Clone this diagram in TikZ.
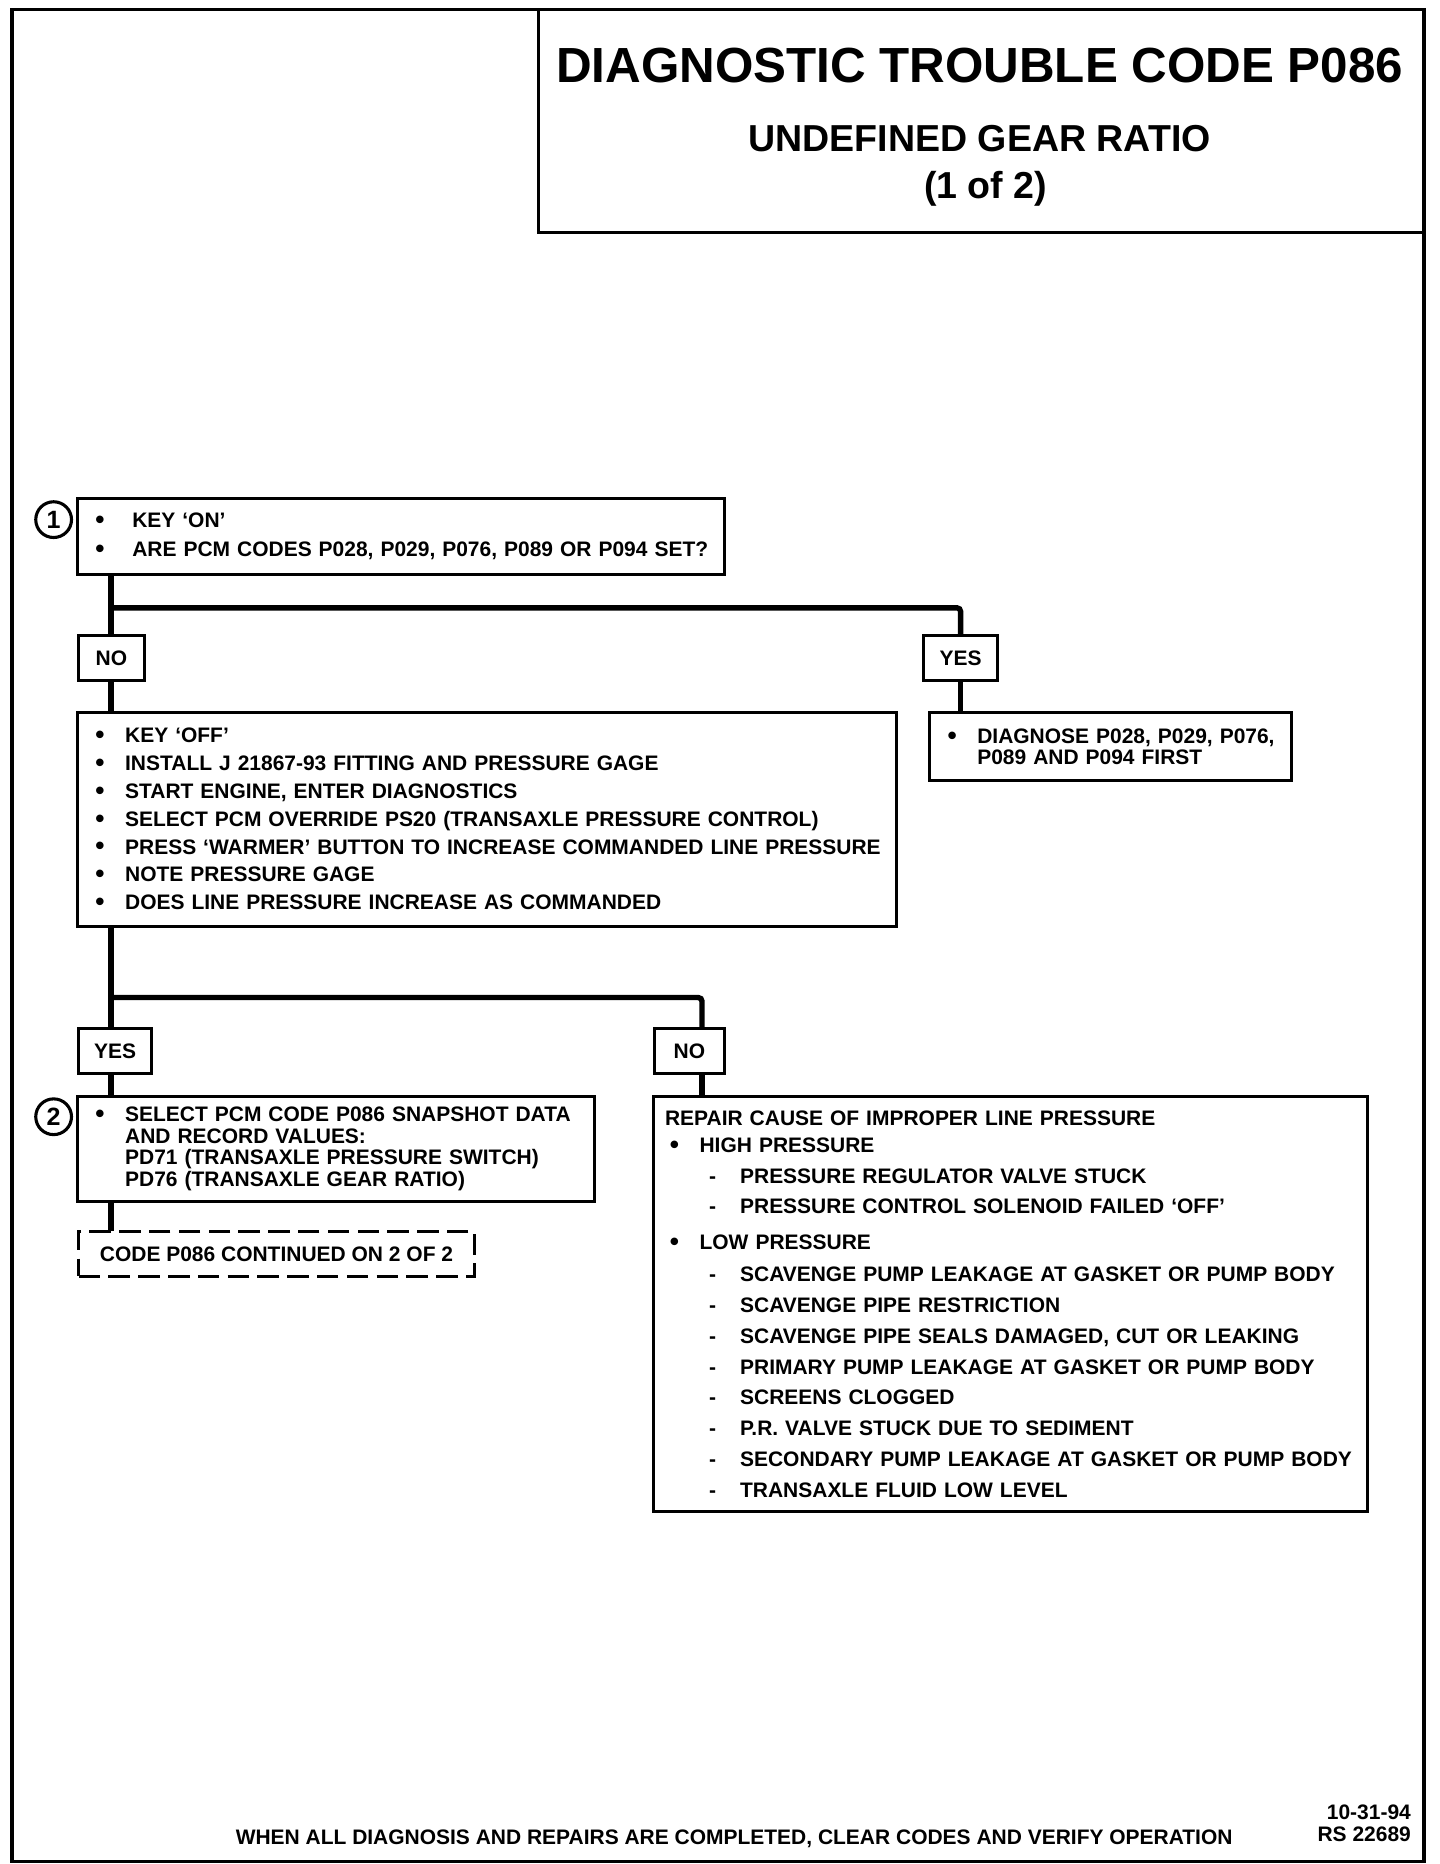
\documentclass[tikz,border=0pt]{standalone}
\usepackage{fontspec}
\setmainfont{Liberation Sans}
\usetikzlibrary{positioning}
\usetikzlibrary{calc}

\newcommand{\dotb}{\raisebox{-0.8pt}{\fontsize{22}{22}\selectfont\textbullet}}
\newcommand{\itm}[2][26pt]{\mbox{\makebox[#1][l]{\hspace{1pt}\dotb}#2}}
\newcommand{\cnt}[2][26pt]{\mbox{\hspace*{#1}#2}}
\newcommand{\dsh}[1]{\mbox{\makebox[63pt][l]{\hspace{37pt}-}#1}}

\tikzset{
  x=1pt, y=-1pt,
  box/.style={draw, line width=2.5pt, outer sep=0pt, anchor=north west, inner xsep=14pt, inner ysep=0pt,
    align=left, font=\fontsize{17.6}{23.3}\selectfont\bfseries},
  answer/.style={draw, line width=2.5pt, outer sep=0pt, anchor=north west, minimum height=38pt,
    inner sep=0pt, font=\fontsize{17.6}{18}\selectfont\bfseries},
  conn/.style={line width=4.5pt},
  stepnum/.style={circle, draw, line width=2.6pt, minimum size=30pt, inner sep=0pt,
    font=\fontsize{21}{21}\selectfont\bfseries},
}

\begin{document}
\begin{tikzpicture}
    \useasboundingbox (0,0) rectangle (1208,1564);
    \draw [line width=3pt] (10,8) rectangle (1195,1562);

    % title block
    \node [draw, line width=3pt, outer sep=0pt, anchor=north west, minimum width=743pt, minimum height=187pt,
           inner sep=0pt] (titlebox) at (452,8) { };
    \node [font=\fontsize{41.4}{42}\selectfont\bfseries] (title) at (822,55) {DIAGNOSTIC TROUBLE CODE P086};
    \node [font=\fontsize{31.5}{32}\selectfont\bfseries] (subtitle) at (822,116) {UNDEFINED GEAR RATIO};
    \node [font=\fontsize{31.5}{32}\selectfont\bfseries] (sheet) at (827,158) {(1 of 2)};

    % connector columns
    \coordinate (lft) at (93,0);
    \coordinate (rgt) at (589,0);
    \coordinate (split1) at (93,510);
    \coordinate (split2) at (93,837);

    % step 1
    \node [box, font=\fontsize{17.6}{24}\selectfont\bfseries, text width=515pt, minimum height=64pt] (keyon) at (65,418)
          {\itm[32pt]{KEY `ON'}\\ \itm[32pt]{ARE PCM CODES P028, P029, P076, P089 OR P094 SET?}};
    \node [stepnum] (num1) at (45,436) {1};

    \node [answer, minimum width=55pt] (no1) at (66,533) {NO};
    \node [answer, minimum width=62pt] (yes1) at (775,533) {YES};

    \node [box, text width=659pt, minimum height=179pt] (check) at (65,598)
          {\itm{KEY `OFF'}\\
           \itm{INSTALL J 21867-93 FITTING AND PRESSURE GAGE}\\
           \itm{START ENGINE, ENTER DIAGNOSTICS}\\
           \itm{SELECT PCM OVERRIDE PS20 (TRANSAXLE PRESSURE CONTROL)}\\
           \itm{PRESS `WARMER' BUTTON TO INCREASE COMMANDED LINE PRESSURE}\\
           \itm{NOTE PRESSURE GAGE}\\
           \itm{DOES LINE PRESSURE INCREASE AS COMMANDED}};

    \node [box, font=\fontsize{17.6}{17.6}\selectfont\bfseries, inner xsep=14pt, text width=276pt,
           minimum height=57pt] (diag) at (780,598)
          {\itm[26pt]{DIAGNOSE P028, P029, P076,}\\ \cnt[26pt]{P089 AND P094 FIRST}};

    \node [answer, minimum width=61pt] (yes2) at (66,863) {YES};
    \node [answer, minimum width=59pt] (no2) at (549,863) {NO};

    % step 2
    \node [box, font=\fontsize{17.6}{18}\selectfont\bfseries, text width=406pt, minimum height=88pt] (snap) at (65,920)
          {\itm{SELECT PCM CODE P086 SNAPSHOT DATA}\\
           \cnt{AND RECORD VALUES:}\\
           \cnt{PD71 (TRANSAXLE PRESSURE SWITCH)}\\
           \cnt{PD76 (TRANSAXLE GEAR RATIO)}};
    \node [stepnum] (num2) at (45,937) {2};

    \node [answer, dash pattern=on 18pt off 7pt, minimum width=332pt] (cont) at (66,1033)
          {CODE P086 CONTINUED ON 2 OF 2};

    \node [box, font=\fontsize{17.6}{25.8}\selectfont\bfseries, inner xsep=10pt, text width=579pt,
           minimum height=348pt] (repair) at (548,920)
          {\mbox{REPAIR CAUSE OF IMPROPER LINE PRESSURE}\\[-2.8pt]
           \hspace*{3pt}\itm{HIGH PRESSURE}\\
           \dsh{PRESSURE REGULATOR VALVE STUCK}\\
           \dsh{PRESSURE CONTROL SOLENOID FAILED `OFF'}\\[4.2pt]
           \hspace*{3pt}\itm{LOW PRESSURE}\\[1.2pt]
           \dsh{SCAVENGE PUMP LEAKAGE AT GASKET OR PUMP BODY}\\
           \dsh{SCAVENGE PIPE RESTRICTION}\\
           \dsh{SCAVENGE PIPE SEALS DAMAGED, CUT OR LEAKING}\\
           \dsh{PRIMARY PUMP LEAKAGE AT GASKET OR PUMP BODY}\\
           \dsh{SCREENS CLOGGED}\\
           \dsh{P.R. VALVE STUCK DUE TO SEDIMENT}\\
           \dsh{SECONDARY PUMP LEAKAGE AT GASKET OR PUMP BODY}\\
           \dsh{TRANSAXLE FLUID LOW LEVEL}};

    % connectors
    \draw [conn] (keyon.south -| lft) -- (no1.north -| lft);
    \draw [conn, rounded corners=3pt] (split1) -| (yes1.north);
    \draw [conn] (no1.south -| lft) -- (check.north -| lft);
    \draw [conn] (yes1.south) -- (yes1.south |- diag.north);
    \draw [conn] (check.south -| lft) -- (yes2.north -| lft);
    \draw [conn, rounded corners=3pt] (split2) -| (no2.north -| rgt);
    \draw [conn] (yes2.south -| lft) -- (snap.north -| lft);
    \draw [conn] (no2.south -| rgt) -- (repair.north -| rgt);
    \draw [conn] (snap.south -| lft) -- (cont.north -| lft);

    % footer
    \node [font=\fontsize{17.6}{18}\selectfont\bfseries] (note) at (616,1543)
          {WHEN ALL DIAGNOSIS AND REPAIRS ARE COMPLETED, CLEAR CODES AND VERIFY OPERATION};
    \node [anchor=east, align=right, inner sep=0pt, font=\fontsize{17.6}{18}\selectfont\bfseries] (ref) at (1184,1530)
          {10-31-94\\ RS 22689};
\end{tikzpicture}
\end{document}
